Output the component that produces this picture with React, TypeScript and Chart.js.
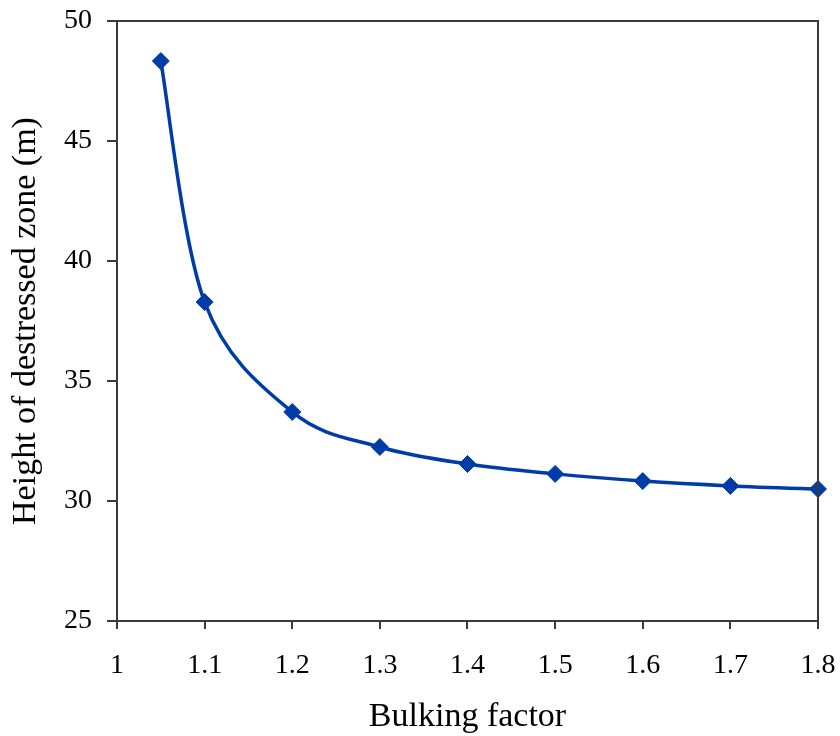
import React, { useEffect, useRef } from "react";
import { Chart, registerables } from "chart.js";

Chart.register(...registerables);

const bulkingFactor = [1.05, 1.1, 1.2, 1.3, 1.4, 1.5, 1.6, 1.7, 1.8];
const heightValues = [48.33, 38.29, 33.71, 32.25, 31.54, 31.13, 30.83, 30.63, 30.5];
const xTicks = [1, 1.1, 1.2, 1.3, 1.4, 1.5, 1.6, 1.7, 1.8];
const yTicks = [25, 30, 35, 40, 45, 50];
const xTitle = "Bulking factor";
const yTitle = "Height of destressed zone (m)";

const FONT = "'Liberation Serif', 'Times New Roman', serif";
const AXIS = "#3a3a3a";
const BLUE = "rgb(0, 60, 168)";

const boxPlugin = {
  id: "boxBorder",
  afterDraw(chart: any) {
    const { ctx, chartArea } = chart;
    ctx.save();
    ctx.strokeStyle = AXIS;
    ctx.lineWidth = 2;
    ctx.beginPath();
    ctx.moveTo(chartArea.left, chartArea.top);
    ctx.lineTo(chartArea.right, chartArea.top);
    ctx.lineTo(chartArea.right, chartArea.bottom);
    ctx.stroke();
    ctx.restore();
  },
};

// Excel-like smoothing (uniform Catmull-Rom) for the line's control points
const smoothPlugin = {
  id: "excelSmooth",
  beforeDatasetDraw(chart: any, args: any) {
    const meta = chart.getDatasetMeta(args.index);
    const line = meta.dataset;
    if (!line) return;
    line.updateControlPoints(chart.chartArea, "x");
    const pts = meta.data;
    const n = pts.length;
    for (let i = 0; i < n; i++) {
      const p = pts[i];
      const prev = pts[i - 1] || p;
      const next = pts[i + 1] || p;
      const dx = (next.x - prev.x) / 6;
      const dy = (next.y - prev.y) / 6;
      p.cp1x = p.x - dx;
      p.cp1y = p.y - dy;
      p.cp2x = p.x + dx;
      p.cp2y = p.y + dy;
    }
  },
};

export default function App() {
  const ref = useRef<HTMLCanvasElement>(null);
  useEffect(() => {
    if (!ref.current) return;
    const chart = new Chart(ref.current, {
      type: "line",
      data: {
        datasets: [
          {
            data: bulkingFactor.map((x, i) => ({ x, y: heightValues[i] })),
            borderColor: BLUE,
            backgroundColor: BLUE,
            borderWidth: 3.5,
            pointStyle: "rectRot",
            pointRadius: 8.5,
            pointBorderWidth: 1,
            pointBackgroundColor: BLUE,
            pointBorderColor: BLUE,
            tension: 0.3,
            fill: false,
            clip: false as any,
          },
        ],
      },
      options: {
        animation: false,
        responsive: false,
        maintainAspectRatio: false,
        layout: { padding: { left: 0, top: 21, right: 22, bottom: 0 } },
        plugins: { legend: { display: false }, tooltip: { enabled: false } },
        scales: {
          x: {
            type: "linear",
            min: 1,
            max: 1.8,
            afterBuildTicks: (s: any) => {
              s.ticks = xTicks.map((v) => ({ value: v }));
            },
            afterFit: (s: any) => {
              s.height = 115;
              s.paddingLeft = 0;
              s.paddingRight = 0;
            },
            grid: { drawOnChartArea: false, drawTicks: true, tickLength: 8, color: AXIS, lineWidth: 2 },
            border: { display: true, color: AXIS, width: 2 },
            ticks: {
              color: "#000",
              padding: 20,
              font: { family: FONT, size: 28 },
              callback: (v: any) => String(Number(Number(v).toFixed(1))),
            },
            title: {
              display: true,
              text: xTitle,
              color: "#000",
              font: { family: FONT, size: 34, lineHeight: 1.1 },
              padding: 0,
            },
          },
          y: {
            type: "linear",
            min: 25,
            max: 50,
            afterBuildTicks: (s: any) => {
              s.ticks = yTicks.map((v) => ({ value: v }));
            },
            afterFit: (s: any) => {
              s.width = 117;
              s.paddingTop = 0;
              s.paddingBottom = 0;
            },
            grid: { drawOnChartArea: false, drawTicks: true, tickLength: 10, color: AXIS, lineWidth: 2 },
            border: { display: true, color: AXIS, width: 2 },
            ticks: {
              color: "#000",
              padding: 15,
              font: { family: FONT, size: 28 },
            },
            title: {
              display: true,
              text: yTitle,
              color: "#000",
              font: { family: FONT, size: 34, lineHeight: 1.2 },
              padding: { top: 6, bottom: 0 },
            },
          },
        },
      },
      plugins: [boxPlugin, smoothPlugin],
    });
    return () => chart.destroy();
  }, []);
  return (
    <div style={{ position: "fixed", left: 0, top: 0, width: 840, height: 736, background: "#fff" }}>
      <canvas ref={ref} width={840} height={736} style={{ width: 840, height: 736 }} />
    </div>
  );
}
